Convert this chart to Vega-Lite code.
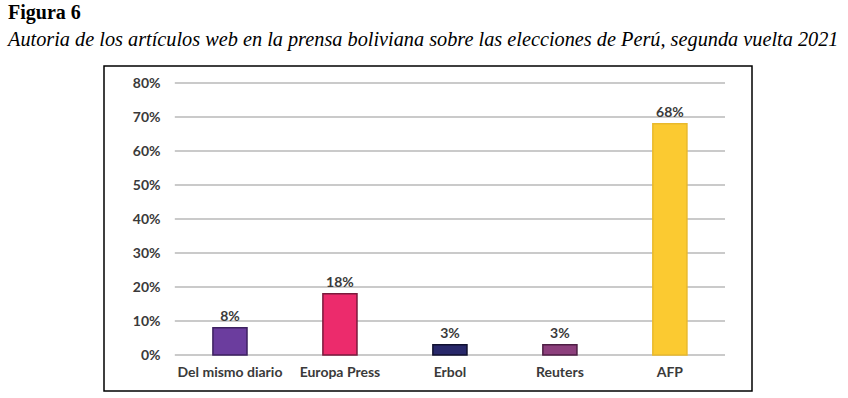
{
  "$schema": "https://vega.github.io/schema/vega-lite/v6.json",
  "width": 648,
  "height": 325,
  "autosize": {"type": "none"},
  "padding": {"left": 104, "top": 66, "right": 96, "bottom": 7},
  "background": "white",
  "title": {
    "text": "Figura 6",
    "subtitle": "Autoria de los artículos web en la prensa boliviana sobre las elecciones de Perú, segunda vuelta 2021",
    "anchor": "start",
    "frame": "group",
    "dx": -96,
    "offset": 16,
    "font": "Liberation Serif",
    "fontSize": 20,
    "fontWeight": "bold",
    "color": "black",
    "subtitleFont": "Liberation Serif",
    "subtitleFontSize": 20.3,
    "subtitleFontStyle": "italic",
    "subtitleColor": "black",
    "subtitlePadding": 7
  },
  "config": {
    "view": {"stroke": "black", "strokeWidth": 1.5},
    "axis": {"labelFont": "Lato", "labelFontWeight": "bold", "labelFontSize": 14, "labelColor": "#3a3a3a"}
  },
  "datasets": {
    "bars": [
      {"fuente": "Del mismo diario", "pct": 8, "etiqueta": "8%"},
      {"fuente": "Europa Press", "pct": 18, "etiqueta": "18%"},
      {"fuente": "Erbol", "pct": 3, "etiqueta": "3%"},
      {"fuente": "Reuters", "pct": 3, "etiqueta": "3%"},
      {"fuente": "AFP", "pct": 68, "etiqueta": "68%"}
    ],
    "grid": [
      {"v": 0}, {"v": 10}, {"v": 20}, {"v": 30}, {"v": 40}, {"v": 50}, {"v": 60}, {"v": 70}, {"v": 80}
    ]
  },
  "layer": [
    {
      "data": {"name": "grid"},
      "mark": {"type": "rule", "color": "#b8b8b8", "strokeWidth": 1.5},
      "encoding": {
        "y": {"field": "v", "type": "quantitative"},
        "x": {"datum": "Del mismo diario", "type": "nominal", "bandPosition": -1.1176},
        "x2": {"datum": "AFP", "bandPosition": 2.1176}
      }
    },
    {
      "data": {"name": "bars"},
      "mark": {"type": "bar", "strokeWidth": 1.5},
      "encoding": {
        "x": {
          "field": "fuente", "type": "nominal", "sort": null,
          "scale": {"domain": ["Del mismo diario", "Europa Press", "Erbol", "Reuters", "AFP"], "paddingInner": 0.69, "paddingOuter": 0.791, "align": 0.626},
          "axis": {"title": null, "orient": "bottom", "offset": -36, "domain": false, "ticks": false, "tickSize": 0, "labelPadding": 17, "labelAngle": 0, "labelAlign": "center", "bandPosition": 0.5, "grid": false}
        },
        "y": {
          "field": "pct", "type": "quantitative",
          "scale": {"domain": [-10.588, 85], "nice": false, "zero": false},
          "axis": {"title": null, "values": [0, 10, 20, 30, 40, 50, 60, 70, 80], "labelExpr": "datum.value + '%'", "offset": -56, "domain": false, "ticks": false, "tickSize": 0, "labelPadding": 0, "grid": false}
        },
        "y2": {"datum": 0},
        "fill": {
          "field": "fuente", "type": "nominal", "sort": null, "legend": null,
          "scale": {"domain": ["Del mismo diario", "Europa Press", "Erbol", "Reuters", "AFP"], "range": ["#6b3d9e", "#ec2b6c", "#28286a", "#8c3f7c", "#fbca31"]}
        },
        "stroke": {
          "field": "fuente", "type": "nominal", "sort": null, "legend": null,
          "scale": {"domain": ["Del mismo diario", "Europa Press", "Erbol", "Reuters", "AFP"], "range": ["#3d2160", "#7a1a3c", "#101030", "#4e1e44", "#e9b92c"]}
        }
      }
    },
    {
      "data": {"name": "bars"},
      "mark": {"type": "text", "font": "Lato", "fontWeight": "bold", "fontSize": 14, "color": "#3a3a3a", "baseline": "bottom", "dy": -4},
      "encoding": {
        "x": {"field": "fuente", "type": "nominal", "sort": null},
        "y": {"field": "pct", "type": "quantitative"},
        "text": {"field": "etiqueta"}
      }
    }
  ]
}
